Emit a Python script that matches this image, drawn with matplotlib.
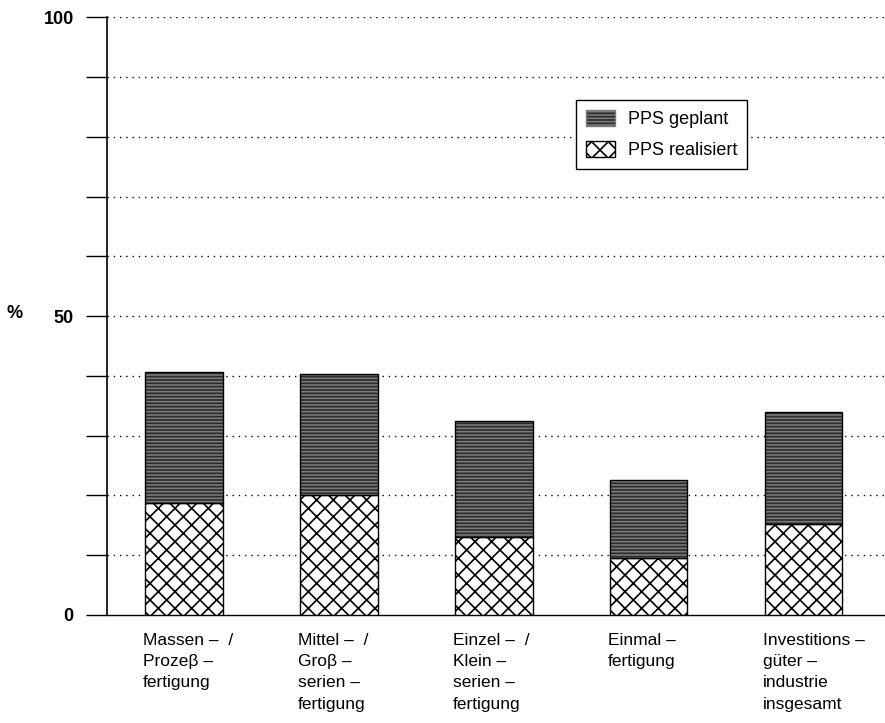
import numpy as np
import matplotlib
matplotlib.use("Agg")
import matplotlib.pyplot as plt
from matplotlib.patches import Patch
from matplotlib.transforms import blended_transform_factory

plt.rcParams['font.family'] = ['Liberation Sans', 'DejaVu Sans']
plt.rcParams['hatch.linewidth'] = 1.2

categories = [
    "Massen –  /\nProzeβ –\nfertigung",
    "Mittel –  /\nGroβ –\nserien –\nfertigung",
    "Einzel –  /\nKlein –\nserien –\nfertigung",
    "Einmal –\nfertigung",
    "Investitions –\ngüter –\nindustrie\ninsgesamt",
]
pps_realisiert = [18.7, 20.1, 13.1, 9.5, 15.2]
pps_gesamt = [40.6, 40.3, 32.5, 22.6, 34.0]
pps_geplant = [g - r for g, r in zip(pps_gesamt, pps_realisiert)]
y_ticks = list(range(0, 101, 10))
y_labels = ["0" if t == 0 else "50" if t == 50 else "100" if t == 100 else "" for t in y_ticks]

PLAN_FACE = "#2a2a2a"
PLAN_HATCH = "#7a7a7a"
BAR_W = 0.5


def main():
    fig = plt.figure(figsize=(8.85, 7.23), dpi=100)
    ax = fig.add_axes([0.1209, 0.1494, 0.8791, 0.8264])

    x = np.arange(len(categories))

    # realised share: white with cross hatch
    ax.bar(x, pps_realisiert, BAR_W, color="white", edgecolor="black",
           hatch="xx", linewidth=1.0, zorder=3)
    # planned share: dark textured fill, hatch drawn in lighter grey
    ax.bar(x, pps_geplant, BAR_W, bottom=pps_realisiert, color=PLAN_FACE,
           edgecolor=PLAN_HATCH, hatch="-----", linewidth=0, zorder=3)
    ax.bar(x, pps_geplant, BAR_W, bottom=pps_realisiert, color="none",
           edgecolor="black", linewidth=1.0, zorder=4)

    ax.set_xlim(-0.497, 4.525)
    ax.set_ylim(0, 100)

    ax.set_yticks(y_ticks)
    ax.set_yticklabels(y_labels, fontsize=13, fontweight="bold")
    ax.tick_params(axis="y", direction="out", length=15, width=1, pad=9)
    ax.set_xticks([])

    for t in y_ticks[1:]:
        ax.axhline(t, color="black", linewidth=1.0, linestyle=(0, (1, 3.5)), zorder=1)

    for s in ["top", "right"]:
        ax.spines[s].set_visible(False)
    ax.spines["left"].set_linewidth(1.2)
    ax.spines["bottom"].set_linewidth(1.0)

    trans = blended_transform_factory(ax.transData, ax.transAxes)
    for i, lab in enumerate(categories):
        ax.text(x[i] - BAR_W / 2 - 0.015, -0.03, lab, transform=trans,
                ha="left", va="top", fontsize=12.5, linespacing=1.52)

    fig.text(15 / 885, 1 - 313 / 723, "%", ha="center", va="center",
             fontsize=13, fontweight="bold")

    handles = [
        Patch(facecolor=PLAN_FACE, edgecolor=PLAN_HATCH, hatch="-----"),
        Patch(facecolor="white", edgecolor="black", hatch="xx"),
    ]
    leg = ax.legend(handles, ["PPS geplant", "PPS realisiert"],
                    loc="upper left", bbox_to_anchor=(0.603, 0.862),
                    borderaxespad=0, fancybox=False, framealpha=1,
                    edgecolor="black", fontsize=13, handlelength=1.6,
                    handleheight=1.0, borderpad=0.55, labelspacing=0.7,
                    handletextpad=0.7)
    leg.get_frame().set_linewidth(1.0)
    leg.set_zorder(5)

    fig.savefig("out.png", dpi=100)


if __name__ == '__main__':
    main()
